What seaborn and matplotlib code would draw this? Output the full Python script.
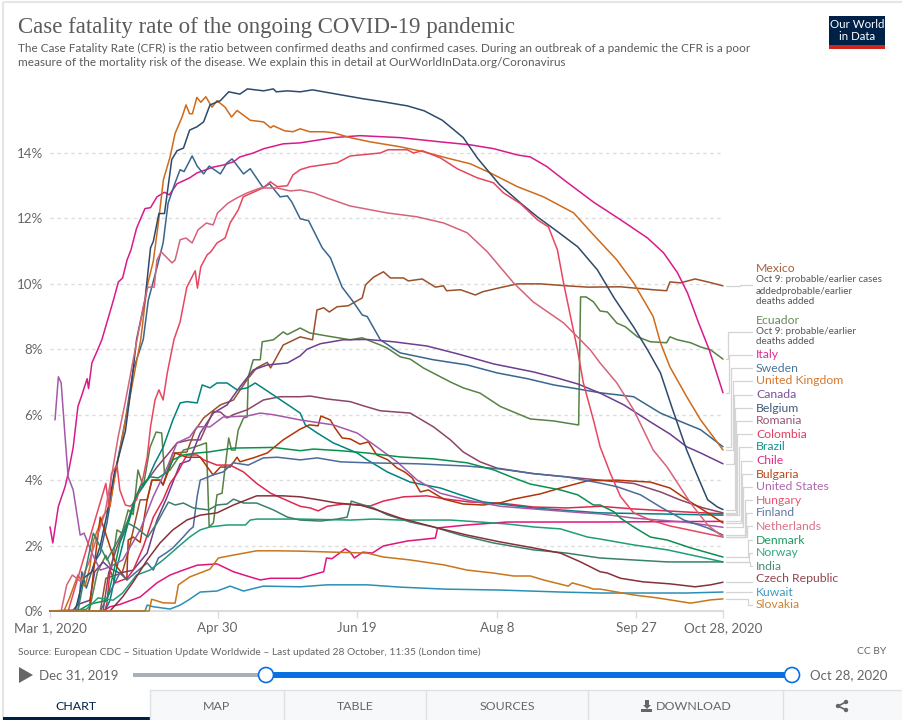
#!/usr/bin/env python3
"""Case fatality rate of the ongoing COVID-19 pandemic (OWID style chart)."""

import matplotlib
matplotlib.use('Agg')
import matplotlib.pyplot as plt
from matplotlib.patches import Rectangle, Circle, Polygon
import pandas as pd
import seaborn as sns

# Days are counted from Mar 1, 2020, values are CFR in percent
mexico_days = [0, 18, 20, 25.8, 28, 32.3, 34.8, 36.5, 39.4, 40.5, 44, 45, 49, 52, 55, 61, 65.7, 70.5, 74, 77.8, 79, 83.5, 89.6, 94, 95.6, 98, 100, 102.8, 106.8, 111.8, 113, 115.8, 119.4, 121.9, 126.6, 128.3, 133.3, 138, 140.9, 142, 147, 152.3, 155, 161, 167.4, 175.6, 185, 192.5, 204.3, 216, 220.8, 222, 225.8, 231, 235.5, 241]
mexico_cfr = [0, 0, 1.0, 1.16, 1.8, 3.4, 3.4, 4.0, 4.0, 3.85, 4.83, 4.83, 4.86, 5.53, 5.9, 6.3, 6.45, 7.06, 7.43, 7.6, 7.43, 8.13, 8.38, 8.29, 9.2, 9.27, 9.14, 9.3, 9.33, 9.57, 9.97, 10.2, 10.37, 10.18, 10.18, 10.09, 10.15, 9.9, 9.94, 9.79, 9.82, 9.66, 9.76, 9.88, 10.0, 10.0, 9.94, 9.9, 9.91, 9.82, 9.79, 10.06, 10.03, 10.15, 10.06, 9.94]
ecuador_days = [0, 14, 17, 20, 22, 24, 25.8, 28, 29.8, 31.5, 33.4, 35.8, 38, 40, 41, 43, 47.8, 51.3, 56, 57, 58.5, 59.8, 61.6, 64, 65, 66.3, 67.4, 69.3, 70.6, 71, 72.8, 75.3, 76, 80, 83.5, 85, 89.6, 93, 99, 107.5, 111.8, 118.3, 120.7, 125.4, 129, 133.7, 143.4, 148, 154, 161.3, 172, 180.3, 189, 189.3, 190, 192, 194.6, 197, 199.6, 203, 206, 210.4, 215, 220.8, 222, 224.7, 229.4, 233, 236.6, 241]
ecuador_cfr = [0, 0, 1.2, 1.7, 1.3, 2.48, 2.38, 3.09, 2.95, 4.31, 3.8, 5.0, 5.47, 5.44, 4.2, 4.31, 4.92, 5.0, 5.14, 2.57, 2.69, 3.55, 3.6, 5.29, 4.92, 4.92, 5.53, 5.9, 5.93, 7.16, 7.68, 7.68, 8.23, 8.29, 8.53, 8.45, 8.65, 8.5, 8.41, 8.29, 8.35, 8.13, 8.04, 7.77, 7.7, 7.43, 7.0, 6.82, 6.66, 6.25, 5.87, 5.81, 5.69, 5.69, 9.6, 9.6, 9.45, 9.17, 9.14, 8.8, 8.69, 8.38, 8.23, 8.2, 8.38, 8.29, 8.2, 8.07, 7.98, 7.7]
italy_days = [0, 1, 3, 5.4, 6.5, 8.3, 10, 11.4, 13.3, 13.8, 15, 17.3, 18.6, 21, 22.7, 24.5, 26, 27.6, 29, 31, 34, 36, 38.3, 41, 42.7, 45.5, 50, 52.6, 58.5, 62, 65.7, 68, 72.8, 76.5, 83.5, 89.6, 101.5, 111, 125.4, 139.8, 150.5, 159, 167.4, 172, 178, 184, 194.6, 204.3, 214, 219.7, 224.7, 228.3, 232.3, 236, 241]
italy_cfr = [2.57, 2.08, 3.2, 3.8, 4.2, 5.0, 6.25, 6.6, 7.1, 6.8, 7.58, 8.03, 8.3, 9.0, 9.5, 10.06, 10.18, 10.73, 11.04, 11.7, 12.3, 12.33, 12.66, 12.8, 12.72, 13.06, 13.24, 13.39, 13.57, 13.63, 13.73, 13.88, 14.0, 14.13, 14.28, 14.31, 14.47, 14.53, 14.47, 14.34, 14.25, 14.13, 13.94, 13.88, 13.58, 13.18, 12.5, 11.96, 11.4, 10.95, 10.34, 9.72, 8.8, 8.0, 6.67]
sweden_days = [0, 10, 11.4, 13, 16, 18, 20.4, 23.3, 27, 29.8, 33.4, 35.2, 38.3, 40.5, 42.3, 44.8, 46.6, 48, 50.9, 52.7, 55, 57, 61, 63.4, 65.2, 69.3, 71.7, 76.3, 78.6, 82.4, 85, 86.6, 89.6, 92.6, 97.5, 100.4, 104.6, 108.6, 111.8, 113.6, 118.3, 123.7, 125.4, 137.3, 149.5, 160, 171, 180.4, 188.9, 197, 209, 218.6, 227, 233, 241]
sweden_cfr = [0, 0, 1.2, 0.7, 1.5, 1.77, 2.7, 4.2, 5.84, 7.37, 8.3, 9.5, 10.5, 11.25, 12.47, 13.09, 13.49, 13.43, 13.91, 13.6, 13.36, 13.6, 13.36, 13.7, 13.82, 13.36, 13.52, 12.94, 13.06, 12.66, 12.69, 12.5, 11.99, 11.93, 11.1, 10.8, 9.9, 9.45, 9.05, 9.0, 8.29, 7.98, 7.89, 7.68, 7.52, 7.28, 7.1, 6.91, 6.79, 6.67, 6.55, 6.05, 5.75, 5.54, 5.02]
uk_days = [0, 5, 7, 10, 12.5, 14.3, 15.5, 19, 21.5, 23, 32.5, 34.7, 37, 38.8, 40.6, 43, 44.8, 47.3, 48.7, 50, 51, 52.6, 54, 55.8, 58, 59.8, 62.7, 65, 67, 71.7, 76.5, 79, 80, 84, 87, 89.6, 93, 98, 101.5, 107.5, 114.7, 125.4, 133.7, 142, 150.5, 157.7, 167.4, 176.7, 187.5, 194.6, 203, 209, 216, 218.6, 222, 228, 233, 241]
uk_cfr = [0, 0, 0.4, 1.1, 0.75, 1.35, 2.15, 2.9, 3.2, 4.0, 8.3, 9.9, 10.7, 11.86, 13.18, 13.88, 14.6, 15.1, 15.47, 15.2, 15.2, 15.7, 15.55, 15.72, 15.4, 15.6, 15.4, 15.1, 15.3, 15.0, 14.95, 14.77, 14.83, 14.68, 14.65, 14.74, 14.65, 14.65, 14.62, 14.47, 14.34, 14.19, 14.04, 13.85, 13.67, 13.39, 12.97, 12.66, 12.17, 11.5, 10.73, 10.03, 9.0, 8.2, 7.46, 6.55, 5.84, 4.92]
canada_days = [0, 8, 10, 14.3, 16, 19, 21.5, 25, 29.8, 34.8, 38.3, 42, 46.6, 50, 53.8, 58.5, 63.4, 68, 72.8, 77.8, 85, 89.6, 92, 96.8, 105, 113.6, 123, 135, 146, 159, 173, 181.7, 189, 197, 205.5, 215, 222, 228, 233, 241]
canada_cfr = [0, 0, 0.2, 0.33, 1.2, 1.5, 1.3, 1.16, 1.25, 1.77, 2.78, 3.5, 4.5, 4.6, 5.44, 6.05, 6.3, 6.85, 7.37, 7.52, 7.58, 7.8, 8.0, 8.17, 8.29, 8.3, 8.23, 8.1, 7.86, 7.55, 7.31, 7.12, 6.94, 6.66, 6.3, 5.78, 5.41, 5.02, 4.83, 4.5]
belgium_days = [0, 9, 12, 15, 18, 20.5, 23, 27, 29, 31, 34, 36, 37, 39, 41, 43.6, 45.5, 47.8, 50, 52.6, 55, 57.3, 61, 64, 68, 70.7, 76.5, 80, 81, 85, 89.6, 94, 100, 106, 112, 119, 128, 134, 140.5, 148, 153, 161, 168.5, 174.5, 181.7, 189, 196, 202, 209, 214, 218.6, 223, 228, 231, 235.5, 239, 241]
belgium_cfr = [0, 0, 1.0, 1.2, 2.0, 3.0, 4.2, 5.5, 6.8, 8.3, 9.5, 11.1, 11.3, 12.15, 12.15, 13.8, 14.07, 14.15, 14.7, 14.8, 14.95, 15.47, 15.6, 15.87, 15.8, 15.96, 15.9, 15.96, 15.87, 15.9, 15.87, 15.93, 15.84, 15.75, 15.66, 15.57, 15.44, 15.29, 15.0, 14.47, 13.85, 13.03, 12.47, 12.05, 11.6, 11.13, 10.43, 9.57, 8.68, 7.98, 7.28, 6.15, 4.92, 4.3, 3.4, 3.18, 3.1]
romania_days = [0, 19, 21, 24, 27.6, 31, 38.3, 42, 45.5, 50, 53.8, 58.4, 61, 63.4, 65.6, 70.6, 76.4, 82.4, 89.6, 93.2, 99.3, 107.5, 112.3, 118.3, 129, 137.3, 143.4, 148, 154, 160, 173, 185, 197, 209, 218.6, 225.8, 234, 241]
romania_cfr = [0, 0, 1.16, 1.96, 2.7, 3.55, 4.4, 4.77, 5.14, 5.23, 5.23, 6.1, 6.08, 5.9, 6.0, 6.15, 6.45, 6.55, 6.55, 6.57, 6.48, 6.4, 6.27, 6.12, 6.05, 5.63, 5.23, 4.86, 4.56, 4.37, 4.2, 4.1, 4.0, 3.9, 3.64, 3.39, 3.15, 3.0]
colombia_days = [0, 19.7, 20.4, 21.5, 23.3, 27.6, 29.8, 33.4, 37, 40.5, 43, 45.5, 49, 52.7, 55, 59.8, 64.5, 69.3, 74, 79, 89.6, 93.2, 96, 99.3, 105, 114.7, 119.4, 126.6, 135, 142, 150.5, 161.3, 173, 185, 197, 209, 227, 241]
colombia_cfr = [0, 0, 0.25, 1.25, 0.86, 1.0, 1.25, 1.96, 2.87, 3.4, 3.9, 4.2, 4.77, 4.77, 4.62, 4.46, 4.46, 4.25, 3.9, 3.6, 3.2, 3.15, 3.06, 3.2, 3.27, 3.21, 3.36, 3.49, 3.52, 3.42, 3.33, 3.3, 3.18, 3.15, 3.2, 3.12, 3.03, 2.97]
brazil_days = [0, 19.7, 21.5, 24, 27.6, 31, 34.8, 37.6, 40.5, 44, 46.6, 49, 52.7, 54.5, 57.3, 59.8, 63.4, 67, 70.6, 73.5, 80, 87, 89.6, 91.4, 95.7, 101.4, 110, 113.6, 120.8, 129, 139.8, 147, 155.2, 173, 197, 241]
brazil_cfr = [0, 0, 0.33, 1.35, 2.57, 3.5, 4.0, 4.53, 5.0, 5.84, 6.36, 6.4, 6.36, 6.91, 6.82, 6.97, 6.97, 6.76, 6.82, 6.97, 6.6, 6.2, 6.05, 5.69, 5.44, 5.14, 4.83, 4.62, 4.25, 3.94, 3.76, 3.55, 3.33, 3.15, 3.0, 2.93]
chile_days = [0, 19, 21.5, 25, 32.3, 38.3, 43, 47.7, 52.7, 59.8, 65.7, 71.7, 75.3, 78.9, 89.6, 98, 99, 101, 105.7, 107.5, 109, 112, 115.4, 119.4, 128, 138, 138.8, 149.4, 163.8, 197, 241]
chile_cfr = [0, 0, 0.13, 0.2, 0.43, 0.86, 1.1, 1.25, 1.4, 1.44, 1.2, 1.04, 0.95, 1.0, 1.0, 1.2, 1.62, 1.6, 1.9, 1.8, 1.62, 1.8, 1.77, 1.99, 2.14, 2.23, 2.54, 2.63, 2.72, 2.72, 2.74]
bulgaria_days = [0, 14, 16, 18, 21.5, 24, 27.5, 28, 29.8, 32.3, 34.8, 36.5, 39.4, 40.5, 44.8, 49, 53.8, 58.4, 61, 64.5, 67, 68, 72.8, 77.8, 83.5, 89.6, 92.9, 96, 97, 100.4, 102, 104.6, 107.5, 111, 114, 117, 121, 124.3, 127, 129.7, 132.6, 135.5, 141, 148, 155, 161, 166, 175.6, 182.8, 192.5, 203, 215, 222, 229.4, 236.6, 241]
bulgaria_cfr = [0, 0, 1.5, 2.87, 1.96, 1.35, 0.95, 2.17, 2.26, 2.1, 3.4, 4.0, 4.0, 3.85, 4.83, 4.7, 4.7, 4.16, 4.4, 4.4, 4.7, 4.56, 4.68, 4.83, 5.23, 5.56, 5.69, 5.66, 5.96, 5.84, 5.6, 5.29, 5.26, 5.1, 5.17, 4.77, 4.62, 4.37, 4.25, 4.07, 3.64, 3.7, 3.42, 3.27, 3.24, 3.3, 3.42, 3.58, 3.76, 3.98, 4.0, 3.94, 3.76, 3.33, 2.94, 2.69]
us_days = [1.8, 3, 4, 5.4, 6.5, 8.3, 10.8, 12.2, 15, 18, 21.5, 26, 32.3, 37, 42, 45.5, 50, 52.7, 57.3, 62, 70.6, 75.3, 80, 86, 89.6, 101.4, 110, 117, 124.3, 131.5, 139.8, 149.4, 161.3, 173, 191, 197, 209, 227, 241]
us_cfr = [5.84, 7.16, 6.97, 5.32, 4.1, 3.7, 2.32, 2.38, 1.77, 1.25, 1.35, 1.56, 2.48, 3.5, 4.4, 5.14, 5.32, 5.63, 5.63, 5.93, 5.96, 6.05, 6.0, 5.9, 5.84, 5.69, 5.44, 5.02, 4.56, 4.0, 3.6, 3.39, 3.2, 3.12, 3.0, 2.97, 2.84, 2.72, 2.56]
hungary_days = [0, 6.5, 20, 21, 22, 24, 25, 27, 28.7, 31, 33.4, 34.8, 36, 37.6, 39, 40.5, 42, 44.4, 46.6, 49, 52, 52.8, 54, 56.3, 57.6, 59.8, 62.7, 64.5, 67.4, 69.2, 72.8, 76.3, 78.9, 81.4, 85, 87, 89.6, 93, 102.8, 107.5, 118.3, 121, 127.9, 130.2, 133.3, 139.8, 145.8, 153, 158.8, 162.4, 168.5, 174.5, 178.5, 181.7, 183.9, 186.4, 188.9, 191, 194.6, 197, 200.7, 204.3, 209, 215, 222, 230.4, 241]
hungary_cfr = [0, 0, 3.9, 3.2, 4.2, 4.46, 3.7, 3.24, 3.2, 3.4, 4.1, 4.7, 5.63, 6.45, 6.76, 6.45, 7.28, 8.3, 8.84, 9.9, 10.4, 9.87, 10.52, 10.89, 10.98, 11.25, 11.4, 11.86, 12.26, 12.66, 12.8, 12.93, 13.12, 12.97, 13.0, 13.33, 13.49, 13.58, 13.7, 13.91, 14.0, 14.1, 14.1, 14.0, 14.07, 13.85, 13.52, 13.24, 13.09, 12.78, 12.45, 11.96, 11.74, 11.04, 10.03, 9.0, 7.98, 6.97, 5.84, 5.02, 4.2, 3.5, 3.0, 2.78, 2.6, 2.45, 2.26]
finland_days = [0, 18, 25, 27.6, 31, 34.8, 37, 38.8, 42, 44, 47.7, 50, 51.3, 52.7, 53.8, 58.4, 62, 65.6, 71, 76.4, 81.4, 89.6, 95.7, 104, 113.6, 131.5, 149.4, 161.3, 173, 185, 197, 203, 211.5, 218.6, 227, 235.5, 241]
finland_cfr = [0, 0, 1.16, 0.95, 1.2, 1.47, 1.25, 1.62, 1.8, 1.93, 2.26, 2.48, 2.57, 3.5, 4.0, 4.16, 4.25, 4.53, 4.46, 4.68, 4.7, 4.62, 4.68, 4.56, 4.53, 4.5, 4.43, 4.34, 4.2, 4.1, 3.91, 3.8, 3.55, 3.18, 2.78, 2.54, 2.32]
netherlands_days = [0, 4, 6, 8, 11, 14, 16.8, 19.7, 22.2, 24.4, 26.9, 29.8, 33.4, 35, 37.3, 38.3, 39.8, 43.7, 44.8, 46.6, 48.7, 50.9, 53, 56, 58.4, 60, 63.8, 67, 70.6, 75.3, 81.4, 86, 89.6, 94.4, 99, 107.5, 120.6, 131.4, 141, 149.4, 156.6, 166, 173, 184, 193.5, 197, 203, 209, 216, 221, 229.4, 235.5, 241]
netherlands_cfr = [0, 0, 0.8, 1.1, 0.9, 1.5, 2.26, 3.0, 4.2, 5.32, 6.36, 7.68, 9.3, 9.9, 9.9, 10.73, 10.98, 10.64, 10.73, 11.35, 11.4, 11.25, 11.65, 11.86, 11.8, 12.17, 12.47, 12.63, 12.78, 12.93, 12.93, 12.84, 12.87, 12.78, 12.63, 12.38, 12.17, 12.05, 11.86, 11.56, 10.98, 10.03, 9.45, 8.8, 7.98, 7.58, 6.97, 6.15, 4.92, 4.4, 3.3, 2.63, 2.26]
denmark_days = [0, 10, 14, 20.4, 22.7, 25, 27.6, 29.8, 32.3, 35.8, 38.8, 42, 44, 47.7, 52.7, 56.8, 65.7, 80, 89.6, 94.4, 104, 113.6, 125.4, 137.3, 149.4, 159, 166, 172, 182.8, 189, 194.6, 197, 202, 204.3, 209, 215, 221, 229.4, 241]
denmark_cfr = [0, 0, 0.2, 0.33, 1.16, 2.08, 2.6, 3.3, 3.8, 4.1, 4.07, 4.25, 4.62, 4.77, 4.83, 4.86, 4.98, 5.0, 4.9, 4.95, 4.9, 4.83, 4.71, 4.65, 4.53, 4.31, 4.07, 3.88, 3.7, 3.55, 3.24, 3.24, 3.03, 2.84, 2.57, 2.26, 2.17, 1.93, 1.65]
norway_days = [0, 13, 17.2, 22.6, 26, 31, 35.8, 40.5, 45.5, 50, 53.8, 57.3, 63.4, 70, 71.7, 74, 89.6, 107.5, 115.8, 125.4, 143.4, 154, 163.8, 173, 182.8, 192.5, 197, 209, 221, 233, 241]
norway_cfr = [0, 0.05, 0.4, 0.33, 0.55, 1.1, 1.25, 1.56, 1.93, 2.26, 2.48, 2.57, 2.63, 2.63, 2.78, 2.81, 2.81, 2.78, 2.81, 2.78, 2.78, 2.72, 2.66, 2.57, 2.51, 2.26, 2.2, 2.02, 1.87, 1.65, 1.5]
india_days = [0, 10, 13, 15.5, 18, 20.4, 24, 27.6, 31, 35, 38.3, 42.4, 44.8, 47.8, 51.3, 56.8, 59.8, 63.4, 65.7, 69.3, 74, 80, 85, 89.6, 96.8, 102.8, 106.4, 107.9, 110, 115.8, 120.8, 129, 137.3, 147, 158.8, 173, 185, 197, 209, 221, 241]
india_cfr = [0, 0, 1.35, 2.38, 1.96, 1.56, 2.1, 2.7, 2.54, 2.26, 2.69, 3.33, 3.24, 3.3, 3.15, 3.09, 3.24, 3.27, 3.42, 3.3, 3.3, 3.09, 2.87, 2.78, 2.75, 2.81, 2.87, 3.36, 3.3, 3.15, 2.94, 2.72, 2.57, 2.32, 2.08, 1.87, 1.77, 1.62, 1.56, 1.5, 1.5]
czech_days = [0, 21.5, 26, 29.8, 34.8, 39.4, 44, 49, 53.8, 59.8, 65.7, 74, 83.5, 89.6, 96.8, 102.8, 111, 117, 125.4, 137.3, 149.4, 161.3, 173, 182.8, 190, 197, 199.6, 204.3, 212.5, 222, 231, 236.6, 241]
czech_cfr = [0, 0, 0.43, 0.89, 1.56, 2.08, 2.48, 2.78, 2.93, 3.0, 3.24, 3.52, 3.52, 3.49, 3.39, 3.3, 3.24, 3.09, 2.84, 2.57, 2.32, 2.11, 1.93, 1.77, 1.5, 1.2, 1.16, 1.0, 0.89, 0.83, 0.74, 0.8, 0.88]
kuwait_days = [0, 34, 34.8, 37, 43, 46.6, 49.5, 53.8, 59.8, 64.5, 69.3, 76.4, 89.6, 99.3, 113.6, 125.4, 141, 161.3, 182.8, 197, 228, 241]
kuwait_cfr = [0, 0, 0.18, 0.13, 0.06, 0.18, 0.33, 0.58, 0.61, 0.76, 0.61, 0.76, 0.74, 0.8, 0.8, 0.73, 0.67, 0.64, 0.58, 0.55, 0.55, 0.58]
slovakia_days = [0, 35.5, 36.4, 40.5, 44.8, 46, 50, 57.3, 60.3, 65.7, 74, 81.4, 89.6, 101.4, 113.6, 119.4, 129, 141, 149.4, 158.8, 166, 172, 176.7, 185.6, 187, 192.5, 194.6, 197, 209, 217.5, 229.4, 236.6, 241]
slovakia_cfr = [0, 0, 0.36, 0.25, 0.24, 0.8, 1.04, 1.28, 1.62, 1.71, 1.84, 1.84, 1.83, 1.8, 1.77, 1.65, 1.56, 1.41, 1.25, 1.16, 1.07, 1.07, 0.95, 0.76, 0.86, 0.73, 0.67, 0.67, 0.49, 0.4, 0.24, 0.34, 0.37]

tick_days = [0, 60, 110, 160, 210, 241]
tick_labels = ['Mar 1, 2020', 'Apr 30', 'Jun 19', 'Aug 8', 'Sep 27', 'Oct 28, 2020']
pct_ticks = [0, 2, 4, 6, 8, 10, 12, 14]

countries = ['Mexico', 'Ecuador', 'Italy', 'Sweden', 'United Kingdom', 'Canada', 'Belgium', 'Romania',
             'Colombia', 'Brazil', 'Chile', 'Bulgaria', 'United States', 'Hungary', 'Finland',
             'Netherlands', 'Denmark', 'Norway', 'India', 'Czech Republic', 'Kuwait', 'Slovakia']
colors = ['#9A5129', '#578145', '#D91A8A', '#38668E', '#CF6A1A', '#6D3E91', '#2D4A6B', '#8C4569',
          '#E0284F', '#00847E', '#E0147C', '#B13507', '#A459A8', '#E8465F', '#4C6A9C',
          '#D6637A', '#0B8F4F', '#1E9E78', '#39806B', '#883039', '#2A8FB5', '#C8761A']
all_days = [mexico_days, ecuador_days, italy_days, sweden_days, uk_days, canada_days, belgium_days, romania_days,
            colombia_days, brazil_days, chile_days, bulgaria_days, us_days, hungary_days, finland_days,
            netherlands_days, denmark_days, norway_days, india_days, czech_days, kuwait_days, slovakia_days]
all_cfr = [mexico_cfr, ecuador_cfr, italy_cfr, sweden_cfr, uk_cfr, canada_cfr, belgium_cfr, romania_cfr,
           colombia_cfr, brazil_cfr, chile_cfr, bulgaria_cfr, us_cfr, hungary_cfr, finland_cfr,
           netherlands_cfr, denmark_cfr, norway_cfr, india_cfr, czech_cfr, kuwait_cfr, slovakia_cfr]

# Label rows and connector elbows, in picture pixels
label_y = [268, 320, 355, 368, 381, 395, 408, 421, 434, 447, 461, 474, 487, 500, 513, 526, 540, 553, 566, 579, 592, 605]
leader_y = [285, 332, 355, 368, 381, 395, 408, 421, 434, 447, 461, 474, 487, 500, 513, 526, 540, 553, 566, 582, 592, 605]
elbow_x = [740, 728, 729.5, 731, 733, 734, 735, 736, 737, 739, 741, 742, 743, 745, 746, 747, 748, 749, 750, 750, 749, 748]

W, H = 903, 720
sns.set_theme(style='white')
plt.rcParams['font.family'] = ['Lato', 'DejaVu Sans']

frames = [pd.DataFrame({'country': c, 'day': d, 'cfr': v}) for c, d, v in zip(countries, all_days, all_cfr)]
df = pd.concat(frames, ignore_index=True)

fig = plt.figure(figsize=(W / 100, H / 100), dpi=100, facecolor='white')

# Full-picture pixel axes for page furniture
ui = fig.add_axes([0, 0, 1, 1], zorder=0)
ui.set_xlim(0, W)
ui.set_ylim(H, 0)
ui.axis('off')

# Plot area: day 0 at x=50, day 241 at x=723, 0% at y=611, 14% at y=153
x0, x1, y0, y14 = 50, 723, 611, 153
top = 82
ax = fig.add_axes([x0 / W, 1 - y0 / H, (x1 - x0) / W, (y0 - top) / H], zorder=1)
ax.patch.set_alpha(0)
ax.set_xlim(0, 241)
ax.set_ylim(0, 14 * (y0 - top) / (y0 - y14))

sns.lineplot(data=df, x='day', y='cfr', hue='country', hue_order=countries,
             palette=dict(zip(countries, colors)), estimator=None, sort=False,
             linewidth=1.1, legend=False, ax=ax, clip_on=False, zorder=3)

ax.set_xlabel('')
ax.set_ylabel('')
ax.set_xticks(tick_days)
ax.set_xticklabels(tick_labels)
ax.set_yticks(pct_ticks)
ax.set_yticklabels([f'{p}%' for p in pct_ticks])
ax.tick_params(axis='x', length=5, width=1, color='#dddddd', labelsize=9.6, labelcolor='#666666', pad=3, bottom=True)
ax.tick_params(axis='y', length=0, labelsize=9.6, labelcolor='#666666', pad=5)
ax.grid(axis='y', color='#dddddd', linestyle=(0, (2.5, 2.5)), linewidth=1)
ax.grid(axis='x', visible=False)
ax.set_axisbelow(True)
sns.despine(ax=ax, left=True)
ax.spines['bottom'].set_color('#dddddd')
ax.spines['bottom'].set_linewidth(1.5)
# no gridline over the baseline
ax.get_ygridlines()[0].set_visible(False)

# Title block
ui.add_patch(Rectangle((3, 2), W, H, fill=False, edgecolor='#e6e6e6', linewidth=1.5))
ui.text(18, 27, 'Case fatality rate of the ongoing COVID-19 pandemic', family='Liberation Serif',
        fontsize=16.5, color='#5b5b5b', va='center')
ui.text(18, 48, 'The Case Fatality Rate (CFR) is the ratio between confirmed deaths and confirmed cases. '
        'During an outbreak of a pandemic the CFR is a poor', fontsize=8.5, color='#5b5b5b', va='center')
ui.text(18, 62, 'measure of the mortality risk of the disease. We explain this in detail at '
        'OurWorldInData.org/Coronavirus', fontsize=8.5, color='#5b5b5b', va='center')

# Logo
ui.add_patch(Rectangle((829, 16), 56, 29, facecolor='#002147', edgecolor='none'))
ui.add_patch(Rectangle((829, 45), 56, 4, facecolor='#CE261E', edgecolor='none'))
ui.text(857, 24, 'Our World', color='white', fontsize=8.3, ha='center', va='center')
ui.text(857, 37, 'in Data', color='white', fontsize=8.3, ha='center', va='center')

# Series labels and connectors
for name, col, ly, ty, ex, cfr in zip(countries, colors, label_y, leader_y, elbow_x, all_cfr):
    end_y = y0 - cfr[-1] * (y0 - y14) / 14
    ui.plot([726, ex, ex, 752], [end_y, end_y, ty, ty], color='#d4d4d4', linewidth=0.9, zorder=1)
    ui.text(756, ly, name, color=col, fontsize=8.8, va='center', alpha=0.9)
ui.text(756, 280, 'Oct 9: probable/earlier cases', color='#555555', fontsize=7.1, va='center')
ui.text(756, 291, 'addedprobable/earlier', color='#555555', fontsize=7.1, va='center')
ui.text(756, 302, 'deaths added', color='#555555', fontsize=7.1, va='center')
ui.text(756, 331, 'Oct 9: probable/earlier', color='#555555', fontsize=7.1, va='center')
ui.text(756, 342, 'deaths added', color='#555555', fontsize=7.1, va='center')

# Footer
ui.text(18, 652, 'Source: European CDC – Situation Update Worldwide – Last updated 28 October, 11:35 (London time)',
        fontsize=7.4, color='#666666', va='center')
ui.text(886, 652, 'CC BY', fontsize=7.4, color='#666666', va='center', ha='right')

# Timeline slider
ui.add_patch(Polygon([(19, 667), (19, 683), (33, 675)], facecolor='#666666', edgecolor='none'))
ui.text(39, 675, 'Dec 31, 2019', fontsize=9.5, color='#666666', va='center')
ui.text(887, 675, 'Oct 28, 2020', fontsize=9.5, color='#666666', va='center', ha='right')
ui.add_patch(Rectangle((133, 672.5), 133, 4.5, facecolor='#a9b0ba', edgecolor='none'))
ui.add_patch(Rectangle((266, 672), 526, 5.5, facecolor='#0A6FE0', edgecolor='none'))
for cx in [266, 792]:
    ui.add_patch(Circle((cx, 675), 7.5, facecolor='white', edgecolor='#0A6FE0', linewidth=1.2, zorder=3))

# Tab bar
ui.add_patch(Rectangle((150, 690), W - 150, 30, facecolor='#f7f8f9', edgecolor='none'))
ui.plot([150, W], [690, 690], color='#dfe1e4', linewidth=1)
for sx in [150, 284, 426, 588, 783]:
    ui.plot([sx, sx], [690, 720], color='#dfe1e4', linewidth=1)
ui.add_patch(Rectangle((3, 717), 147, 3, facecolor='#002147', edgecolor='none'))
for tab, cx, col in zip(['CHART', 'MAP', 'TABLE', 'SOURCES', 'DOWNLOAD'], [76, 217, 355, 507, 694],
                        ['#002147', '#666666', '#666666', '#666666', '#666666']):
    ui.text(cx, 706, tab, fontsize=8.9, color=col, ha='center', va='center')
# Download and share icons
ui.add_patch(Polygon([(645, 700), (649, 700), (649, 705), (651, 705), (647, 709), (643, 705), (645, 705)],
                     facecolor='#666666', edgecolor='none'))
ui.add_patch(Rectangle((641.5, 709), 11, 2.5, facecolor='#666666', edgecolor='none'))
ui.plot([846, 838, 846], [702, 706, 710], color='#666666', linewidth=1.2)
for dot_x, dot_y in [(846, 702), (838, 706), (846, 710)]:
    ui.add_patch(Circle((dot_x, dot_y), 2.2, facecolor='#666666', edgecolor='none'))

fig.savefig('out.png', dpi=100, facecolor='white')
